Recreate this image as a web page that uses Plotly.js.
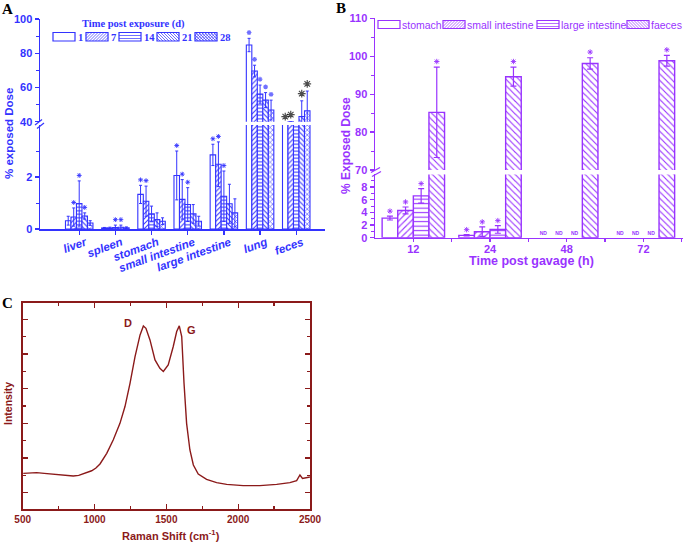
<!DOCTYPE html>
<html>
<head>
<meta charset="utf-8">
<script src="https://cdn.plot.ly/plotly-3.0.1.min.js"></script>
<style>
html, body { margin: 0; padding: 0; background: #fff; }
#chart { width: 685px; height: 543px; }
</style>
</head>
<body>
<div id="chart"></div>
<script>
const chartDiv = document.getElementById("chart")

// ---- A: % exposed dose by organ, per day after exposure
const organs = ["liver", "spleen", "stomach", "small intestine", "large intestine", "lung", "feces"]
const days = ["1", "7", "14", "21", "28"]
const dose1 = [0.32, 0.04, 1.33, 2.06, 2.85, 84.8, 38.8]
const dose7 = [0.46, 0.04, 1.07, 1.14, 2.49, 69.6, 39.9]
const dose14 = [0.98, 0.06, 0.58, 0.94, 1.26, 56.1, 39.0]
const dose21 = [0.50, 0.07, 0.36, 0.58, 0.97, 52.6, 43.0]
const dose28 = [0.23, 0.05, 0.30, 0.30, 0.62, 46.8, 46.4]
const err1 = [0.17, 0.02, 0.35, 0.94, 0.41, 3.9, null]
const err7 = [0.35, 0.03, 0.58, 0.76, 0.86, 3.4, null]
const err14 = [0.87, 0.09, 0.30, 0.65, 0.97, 5.3, null]
const err21 = [0.12, 0.08, 0.26, 0.36, 0.75, 4.4, 9.2]
const err28 = [0.09, 0.03, 0.13, 0.19, 0.54, 5.8, 11.5]
const sig1 = [0, 0, 1, 1, 1, 1, 1]
const sig7 = [1, 0, 1, 1, 1, 1, 1]
const sig14 = [1, 1, 0, 1, 1, 1, 0]
const sig21 = [1, 1, 0, 0, 0, 1, 1]
const sig28 = [0, 0, 0, 0, 0, 1, 1]

// ---- B: % exposed dose after gavage
const hours = ["12", "24", "48", "72"]
const tissues = ["stomach", "small intestine", "large intestine", "faeces"]
const stomachB = [3.1, 0.37, null, null]
const smallIntB = [4.3, 0.95, null, null]
const largeIntB = [6.6, 1.3, null, null]
const faecesB = [85.2, 94.6, 98.1, 98.8]
const stomachErr = [0.3, 0.1, null, null]
const smallIntErr = [0.55, 0.75, null, null]
const largeIntErr = [1.15, 0.6, null, null]
const faecesErr = [11.9, 2.5, 1.5, 1.4]

// ---- C: Raman spectrum
const ramanShift = [504, 550, 597, 650, 713, 750, 783, 820, 852, 890, 922, 950, 980, 1010, 1038, 1085, 1130, 1177, 1212, 1247, 1282, 1317, 1340, 1358, 1386, 1421, 1455, 1479, 1513, 1548, 1572, 1590, 1607, 1623, 1641, 1664, 1688, 1722, 1780, 1850, 1920, 2035, 2151, 2268, 2360, 2407, 2430, 2448, 2476, 2499]
const intensity = [178, 180, 182, 178, 175, 172, 170, 168, 165, 168, 175, 182, 191, 205, 225, 278, 345, 428, 512, 628, 762, 870, 915, 903, 845, 745, 703, 687, 720, 812, 887, 915, 862, 628, 428, 295, 220, 175, 148, 132, 123, 117, 117, 123, 132, 142, 170, 153, 158, 160]

const BLUE = "#3333ff"
const PURPLE = "#9933ff"
const RED = "#8b1a1a"
const ARIAL = "Liberation Sans, Arial, sans-serif"
const TIMES = "Liberation Serif, Times New Roman, serif"
const W = 685, H = 543
const px = x => x / W
const py = y => 1 - y / H

let traces = []
let shapes = []
let annotations = []

function label (text, x, y, font, extra) {
    annotations.push(Object.assign({text: text, x: px(x), y: py(y), xref: "paper", yref: "paper",
        xanchor: "center", yanchor: "middle", showarrow: false, font: font}, extra || {}))
}

function seg (x1, y1, x2, y2) {
    return "M" + px(x1) + "," + py(y1) + "L" + px(x2) + "," + py(y2)
}

// legend swatch drawn in pixels
function swatch (x0, y0, w, h, pat, color) {
    const s = 3
    let d = ""
    if (pat === "/" || pat === "x") {
        for (let c = x0 + y0 + s; c < x0 + w + y0 + h; c += s) {
            const xa = Math.max(x0, c - (y0 + h)), xb = Math.min(x0 + w, c - y0)
            if (xb > xa) d += seg(xa, c - xa, xb, c - xb)
        }
    }
    if (pat === "\\" || pat === "x") {
        for (let c = x0 - y0 - h + s; c < x0 + w - y0; c += s) {
            const xa = Math.max(x0, c + y0), xb = Math.min(x0 + w, c + y0 + h)
            if (xb > xa) d += seg(xa, xa - c, xb, xb - c)
        }
    }
    if (pat === "-") {
        for (let y = y0 + s; y < y0 + h; y += s) d += seg(x0, y, x0 + w, y)
    }
    shapes.push({type: "rect", xref: "paper", yref: "paper", x0: px(x0), x1: px(x0 + w), y0: py(y0 + h), y1: py(y0),
        line: {color: color, width: 1.2}, fillcolor: "white"})
    if (d) shapes.push({type: "path", xref: "paper", yref: "paper", path: d, line: {color: color, width: 0.7}})
}

// ---------- panel A bars
const doseA = [dose1, dose7, dose14, dose21, dose28]
const errA = [err1, err7, err14, err21, err28]
const sigA = [sig1, sig7, sig14, sig21, sig28]
const patA = ["", "/", "-", "\\", "x"]
const wA = 0.152
const lowMaxA = 4

let starAlow = {x: [], y: []}
let starAup = {x: [], y: [], c: [], s: []}

days.forEach((d, k) => {
    const off = -wA * days.length / 2 + k * wA
    ;["y", "y2"].forEach(ya => traces.push({
        type: "bar", name: d, x: organs.map((o, i) => i), y: doseA[k], xaxis: "x", yaxis: ya,
        offset: off, width: wA,
        marker: {color: "white", line: {color: BLUE, width: 1.1},
            pattern: {shape: patA[k], fgcolor: BLUE, bgcolor: "white", size: 3.5, solidity: 0.3}},
        error_y: {type: "data", array: errA[k], color: BLUE, thickness: 1, width: 1.5},
        hoverinfo: "skip"
    }))
    organs.forEach((o, i) => {
        if (!sigA[k][i]) return
        const top = doseA[k][i] + (errA[k][i] || 0)
        const xs = i + off + wA / 2
        if (top < lowMaxA) {
            starAlow.x.push(xs); starAlow.y.push(top + 0.21)
        } else {
            const black = o === "feces"
            starAup.x.push(xs); starAup.y.push(top + (black ? 4.2 : 3.4))
            starAup.c.push(black ? "black" : BLUE); starAup.s.push(black ? 6.5 : 4)
        }
    })
})
traces.push({type: "scatter", mode: "markers", x: starAlow.x, y: starAlow.y, xaxis: "x", yaxis: "y", cliponaxis: false,
    marker: {symbol: "asterisk-open", size: 4, color: BLUE, line: {width: 0.9}}, hoverinfo: "skip"})
traces.push({type: "scatter", mode: "markers", x: starAup.x, y: starAup.y, xaxis: "x", yaxis: "y2", cliponaxis: false,
    marker: {symbol: "asterisk-open", size: starAup.s, color: starAup.c, line: {width: 1.2}}, hoverinfo: "skip"})

// ---------- panel B bars
const doseB = [stomachB, smallIntB, largeIntB, faecesB]
const errB = [stomachErr, smallIntErr, largeIntErr, faecesErr]
const patB = ["", "/", "-", "\\"]
const wB = 0.2035
const lowMaxB = 10

let starBlow = {x: [], y: []}
let starBup = {x: [], y: []}
let nd = {x: [], y: [], t: []}

tissues.forEach((t, k) => {
    const off = -wB * tissues.length / 2 + k * wB
    ;["y3", "y4"].forEach(ya => traces.push({
        type: "bar", name: t, x: hours.map((h, i) => i), y: doseB[k], xaxis: "x2", yaxis: ya,
        offset: off, width: wB,
        marker: {color: "white", line: {color: PURPLE, width: 1.4},
            pattern: {shape: patB[k], fgcolor: PURPLE, bgcolor: "white", size: 4.5, solidity: 0.25}},
        error_y: {type: "data", array: errB[k], color: PURPLE, thickness: 1.2, width: 3},
        hoverinfo: "skip"
    }))
    hours.forEach((h, i) => {
        const xs = i + off + wB / 2
        const v = doseB[k][i]
        if (v === null) {
            nd.x.push(xs); nd.y.push(0.6); nd.t.push("ND")
            return
        }
        const top = v + (errB[k][i] || 0)
        if (top < lowMaxB) {
            starBlow.x.push(xs); starBlow.y.push(top + 0.8)
        } else {
            starBup.x.push(xs); starBup.y.push(top + 1.5)
        }
    })
})
traces.push({type: "scatter", mode: "markers", x: starBlow.x, y: starBlow.y, xaxis: "x2", yaxis: "y3", cliponaxis: false,
    marker: {symbol: "asterisk-open", size: 4.5, color: PURPLE, line: {width: 0.9}}, hoverinfo: "skip"})
traces.push({type: "scatter", mode: "markers", x: starBup.x, y: starBup.y, xaxis: "x2", yaxis: "y4", cliponaxis: false,
    marker: {symbol: "asterisk-open", size: 4.5, color: PURPLE, line: {width: 0.9}}, hoverinfo: "skip"})
traces.push({type: "scatter", mode: "text", x: nd.x, y: nd.y, text: nd.t, xaxis: "x2", yaxis: "y3", cliponaxis: false,
    textfont: {family: ARIAL, size: 5, color: PURPLE, weight: "bold"}, hoverinfo: "skip"})

// ---------- panel C spectrum
traces.push({type: "scatter", mode: "lines", x: ramanShift, y: intensity, xaxis: "x3", yaxis: "y5",
    line: {color: RED, width: 1.4}, hoverinfo: "skip"})

// ---------- legends, titles, breaks
label("Time post exposure (d)", 133, 24, {family: TIMES, size: 10.5, color: BLUE, weight: "bold"})
const swA = [53, 86, 119, 157, 195]
days.forEach((d, k) => {
    swatch(swA[k], 32.5, 22, 8.5, patA[k], BLUE)
    label(d, swA[k] + 23, 37, {family: TIMES, size: 10.5, color: BLUE, weight: "bold"}, {xanchor: "left"})
})
const swB = [378, 443, 537, 627]
tissues.forEach((t, k) => {
    swatch(swB[k], 20.5, 22, 8, patB[k], PURPLE)
    label(t, swB[k] + 22, 24.5, {family: ARIAL, size: 10.5, color: PURPLE}, {xanchor: "left"})
})

label("A", 8, 9, {family: TIMES, size: 15, color: "black", weight: "bold"})
label("B", 341, 8, {family: TIMES, size: 15, color: "black", weight: "bold"})
label("C", 8, 303, {family: TIMES, size: 15, color: "black", weight: "bold"})

label("% exposed Dose", 9, 134, {family: ARIAL, size: 11.5, color: BLUE, weight: "bold"}, {textangle: -90})
label("% Exposed Dose", 346, 146, {family: ARIAL, size: 12, color: PURPLE, weight: "bold"}, {textangle: -90})
label("Time post gavage (h)", 531, 261, {family: ARIAL, size: 12.5, color: PURPLE, weight: "bold"})
label("Intensity", 8, 404, {family: ARIAL, size: 10.5, color: RED, weight: "bold"}, {textangle: -90})
label("Raman Shift (cm<sup>-1</sup>)", 171, 535, {family: ARIAL, size: 11, color: RED, weight: "bold"})
label("D", 128, 323, {family: ARIAL, size: 11, color: RED, weight: "bold"})
label("G", 191, 330, {family: ARIAL, size: 11, color: RED, weight: "bold"})

const brk = (pts, color) => pts.forEach(p => shapes.push({type: "line", xref: "paper", yref: "paper",
    x0: px(p[0]), y0: py(p[1]), x1: px(p[2]), y1: py(p[3]), line: {color: color, width: 1.2}}))
brk([[35, 125, 42, 119.5], [37, 128.5, 44, 123]], BLUE)
brk([[371, 172.5, 380, 167.5], [372, 176.5, 381, 171.5]], PURPLE)

// ---------- axes
function yAx (color, dom, range, vals, minorVals) {
    return {domain: [py(dom[0]), py(dom[1])], range: range, anchor: dom[2],
        tickmode: "array", tickvals: vals, ticks: "outside", ticklen: 4, tickwidth: 1.2, tickcolor: color,
        minor: {tickmode: "array", tickvals: minorVals, ticks: "outside", ticklen: 2.5, tickcolor: color, tickwidth: 1},
        showline: true, linecolor: color, linewidth: 1.5, showgrid: false, zeroline: false,
        tickfont: {family: ARIAL, size: 11, color: color, weight: "bold"}}
}

let layout = {
    width: W, height: H,
    margin: {l: 0, r: 0, t: 0, b: 0},
    paper_bgcolor: "white", plot_bgcolor: "rgba(0,0,0,0)",
    showlegend: false, barmode: "overlay",
    font: {family: ARIAL},
    xaxis: {domain: [px(40), px(325)], anchor: "y", range: [-1.084, 6.795],
        tickmode: "array", tickvals: organs.map((o, i) => i), ticktext: organs, tickangle: -20,
        ticklabelshift: 6, ticklabelstandoff: -3,
        ticks: "outside", ticklen: 4, tickcolor: BLUE, tickwidth: 1.2,
        showline: true, linecolor: BLUE, linewidth: 1.5, showgrid: false, zeroline: false,
        tickfont: {family: ARIAL, size: 11.5, color: BLUE, weight: "bold", style: "italic"}},
    yaxis: yAx(BLUE, [229, 125, "x"], [0, lowMaxA], [0, 2], [1, 3]),
    yaxis2: yAx(BLUE, [121.7, 19, "x"], [40, 100], [40, 60, 80, 100], [50, 70, 90]),
    xaxis2: {domain: [px(375), px(683)], anchor: "y3", range: [-0.5, 3.516],
        tickmode: "array", tickvals: hours.map((h, i) => i), ticktext: hours,
        ticks: "outside", ticklen: 3, tickcolor: PURPLE, tickwidth: 1.2, ticklabelstandoff: -2,
        minor: {tickmode: "array", tickvals: [0.5, 1.5, 2.5, 3.5], ticks: "outside", ticklen: 3, tickcolor: PURPLE},
        showline: true, linecolor: PURPLE, linewidth: 1.5, showgrid: false, zeroline: false,
        tickfont: {family: ARIAL, size: 11, color: PURPLE, weight: "bold"}},
    yaxis3: yAx(PURPLE, [237.7, 174.4, "x2"], [0, lowMaxB], [0, 2, 4, 6, 8], [1, 3, 5, 7, 9]),
    yaxis4: yAx(PURPLE, [170, 18.3, "x2"], [70, 110], [70, 80, 90, 100, 110], [75, 85, 95, 105]),
    xaxis3: {domain: [px(22.7), px(310)], anchor: "y5", range: [500, 2500],
        tickmode: "linear", tick0: 500, dtick: 500, ticks: "inside", ticklen: 5, tickcolor: RED, tickwidth: 1.2,
        minor: {dtick: 250, tick0: 500, ticks: "inside", ticklen: 3, tickcolor: RED},
        mirror: "ticks", showline: true, linecolor: RED, linewidth: 2, showgrid: false, zeroline: false,
        tickfont: {family: ARIAL, size: 10, color: RED, weight: "bold"}},
    yaxis5: {domain: [py(509), py(302.7)], anchor: "x3", range: [0, 1031],
        tickmode: "linear", tick0: 81.5, dtick: 173.3, ticks: "inside", ticklen: 5, tickcolor: RED, tickwidth: 1.2,
        minor: {dtick: 86.65, tick0: 81.5, ticks: "inside", ticklen: 3, tickcolor: RED},
        showticklabels: false, mirror: "ticks", showline: true, linecolor: RED, linewidth: 2,
        showgrid: false, zeroline: false},
    shapes: shapes,
    annotations: annotations
}

let config = {staticPlot: true, displayModeBar: false}

Plotly.newPlot(chartDiv, traces, layout, config)
</script>
</body>
</html>
